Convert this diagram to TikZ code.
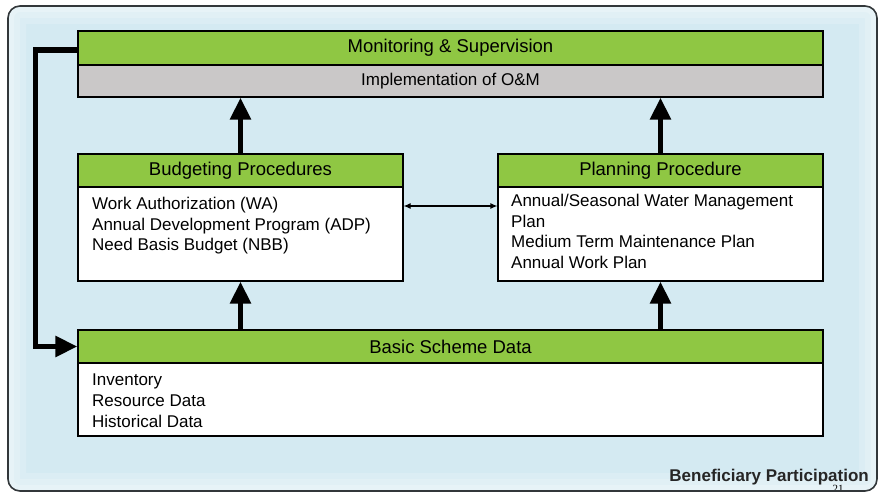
\documentclass[tikz,border=0pt]{standalone}
\usepackage{fontspec}
\setmainfont{Liberation Sans}
\newfontfamily\pagenumfont{Liberation Serif}
\usetikzlibrary{arrows.meta}

\definecolor{slidebg}{RGB}{212,234,242}
\definecolor{framegrey}{RGB}{50,55,58}
\definecolor{headgreen}{RGB}{143,199,67}
\definecolor{bandgrey}{RGB}{202,200,200}

\tikzset{
  headbar/.style={draw=black, line width=1.2pt, fill=headgreen, inner sep=0pt,
    font=\fontsize{18.5}{20}\selectfont},
  greyband/.style={draw=black, line width=1.2pt, fill=bandgrey, inner sep=0pt,
    font=\fontsize{17}{20}\selectfont},
  bodybox/.style={draw=black, line width=1.2pt, fill=white, inner sep=0pt},
  listtext/.style={anchor=north west, inner sep=0pt, align=left,
    font=\fontsize{17}{20.6}\selectfont},
  flowarrow/.style={line width=5.5pt, -{Triangle[length=22pt,width=20pt]}},
  linkarrow/.style={line width=1.2pt, {Latex[length=7pt,width=6pt]}-{Latex[length=7pt,width=6pt]}},
  glow/.style={white, rounded corners=12pt}
}

\begin{document}
\begin{tikzpicture}[x=1pt, y=-1pt]
  \clip (0,0) rectangle (879,495);
  \fill[white] (0,0) rectangle (879,495);

  % slide background with a soft light rim
  \begin{scope}
    \clip[rounded corners=12pt] (8,6) rectangle (877,491);
    \fill[slidebg] (8,6) rectangle (877,491);
    \draw[glow, opacity=0.18, line width=36pt] (8,6) rectangle (877,491);
    \draw[glow, opacity=0.18, line width=24pt] (8,6) rectangle (877,491);
    \draw[glow, opacity=0.2, line width=12pt] (8,6) rectangle (877,491);
  \end{scope}

  % top block
  \node[headbar, minimum width=745pt, minimum height=34pt] (mon) at (450.5,48)
    {Monitoring \& Supervision};
  \node[greyband, minimum width=745pt, minimum height=32pt] (impl) at (450.5,81)
    {Implementation of O\&M};

  % budgeting block
  \node[headbar, minimum width=325pt, minimum height=33pt] (budhead) at (240.5,170.5)
    {Budgeting Procedures};
  \node[bodybox, minimum width=325pt, minimum height=94pt] (budbody) at (240.5,234) {};
  \node[listtext] (budlist) at (92,197)
    {Work Authorization (WA)\\Annual Development Program (ADP)\\Need Basis Budget (NBB)};

  % planning block
  \node[headbar, minimum width=325pt, minimum height=33pt] (planhead) at (660.5,170.5)
    {Planning Procedure};
  \node[bodybox, minimum width=325pt, minimum height=94pt] (planbody) at (660.5,234) {};
  \node[listtext] (planlist) at (511,194)
    {Annual/Seasonal Water Management\\Plan\\Medium Term Maintenance Plan\\Annual Work Plan};

  % basic scheme data block
  \node[headbar, minimum width=745pt, minimum height=33pt] (basichead) at (450.5,346.5)
    {Basic Scheme Data};
  \node[bodybox, minimum width=745pt, minimum height=73pt] (basicbody) at (450.5,399.5) {};
  \node[listtext] (basiclist) at (92,374)
    {Inventory\\Resource Data\\Historical Data};

  % vertical flow arrows
  \draw[flowarrow] (budhead.north) -- (budhead.north |- impl.south);
  \draw[flowarrow] (planhead.north) -- (planhead.north |- impl.south);
  \draw[flowarrow] (budbody.south |- basichead.north) -- (budbody.south);
  \draw[flowarrow] (planbody.south |- basichead.north) -- (planbody.south);

  % feedback loop from monitoring back to the scheme data
  \draw[flowarrow] ([yshift=-2pt]mon.west) -- ++(-42,0) |- (basichead.west);

  % link between budgeting and planning
  \draw[linkarrow] ([yshift=28pt]budbody.east) -- ([yshift=28pt]planbody.west);

  % footer
  \node[anchor=base east, inner sep=0pt, font=\bfseries\fontsize{17}{20}\selectfont,
    text=black!85] (benef) at (869,481) {Beneficiary Participation};
  \node[anchor=base, inner sep=0pt, font=\pagenumfont\fontsize{11}{12}\selectfont]
    (pagenum) at (838,492) {21};

  % slide frame
  \draw[framegrey, line width=1.6pt, rounded corners=12pt] (8,6) rectangle (877,491);
\end{tikzpicture}
\end{document}
